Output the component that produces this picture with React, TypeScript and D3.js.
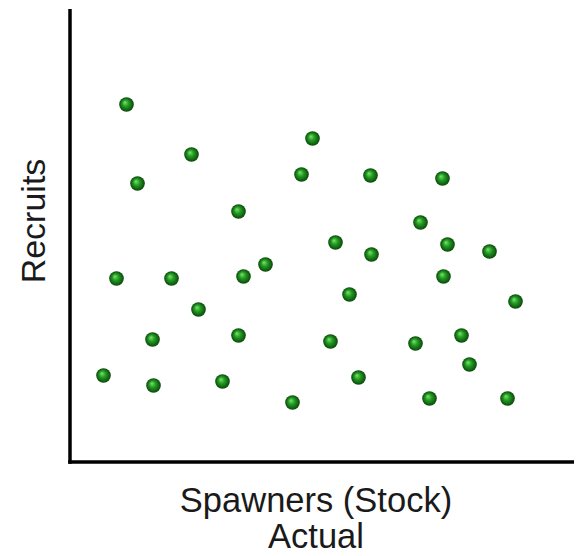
import React from "react";
import * as d3 from "d3";

const spawners = [56, 67, 121, 242, 231, 300, 372, 168, 350, 265, 377, 301, 419, 195, 46, 101, 173, 373, 279, 445, 128, 82, 168, 260, 345, 391, 399, 33, 83, 152, 288, 222, 359, 437];
const recruits = [358, 279, 308, 324, 288, 287, 284, 251, 240, 220, 218, 208, 211, 198, 184, 184, 186, 186, 168, 161, 153, 123, 127, 121, 119, 127, 98, 87, 77, 81, 85, 60, 64, 64];

const W = 579;
const H = 556;

export default function App() {
  const x = d3.scaleLinear().domain([0, 504]).range([70.5, 574.5]);
  const y = d3.scaleLinear().domain([0, 452]).range([462.5, 10.5]);
  const font = "'Liberation Sans', Arial, sans-serif";
  const x0 = 70;
  const y0 = 462;
  return (
    <svg width={W} height={H} style={{ position: "absolute", left: 0, top: 0, background: "#fff" }}>
      <defs>
        <radialGradient id="ball" cx="50%" cy="50%" r="50%" fx="38%" fy="35%">
          <stop offset="0%" stopColor="#7be36a" />
          <stop offset="45%" stopColor="#229a22" />
          <stop offset="100%" stopColor="#0a470a" />
        </radialGradient>
      </defs>
      <line x1={x0} x2={x0} y1={9} y2={y0 + 1.75} stroke="#000" strokeWidth={3.5} />
      <line x1={x0 - 1.75} x2={574} y1={y0} y2={y0} stroke="#000" strokeWidth={3.5} />
      {spawners.map((s, i) => (
        <circle key={i} cx={x(s)} cy={y(recruits[i])} r={7.3} fill="url(#ball)" />
      ))}
      <text x={316} y={512} textAnchor="middle" fontFamily={font} fontSize={34.5} fill="#1a1a1a">
        Spawners (Stock)
      </text>
      <text x={316} y={548} textAnchor="middle" fontFamily={font} fontSize={34.5} fill="#1a1a1a">
        Actual
      </text>
      <text
        transform="translate(45,221) rotate(-90)"
        textAnchor="middle"
        fontFamily={font}
        fontSize={34}
        fill="#1a1a1a"
      >
        Recruits
      </text>
    </svg>
  );
}
